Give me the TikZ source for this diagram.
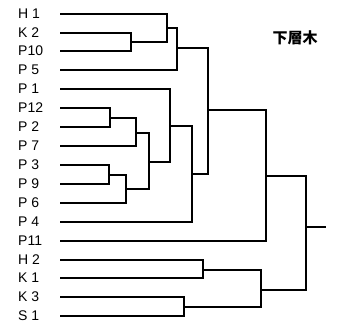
\documentclass[tikz,border=0pt]{standalone}
\usepackage{fontspec}
\setmainfont{Liberation Sans}
\newfontfamily\jpfont{Noto Sans CJK JP}
\usepackage{tikz}
\newcommand{\drawbranch}{\draw[line width=1.1pt]}
\newcommand{\leafname}[3]{\node[leaftext] (n#1) at (18,#3) {#2}; \coordinate (#1) at (60,#3);}
\newcommand{\joinpair}[4]{\coordinate (#1) at (#4); \drawbranch (#2) -| (#1) |- (#3);}
\tikzset{leaftext/.style={anchor=west, inner sep=0pt, font=\fontsize{14}{14}\selectfont}}

\begin{document}
\begin{tikzpicture}[x=1pt,y=-1pt]
\useasboundingbox (0,0) rectangle (352,329);
\leafname{h1}{H 1}{14}\leafname{k2}{K 2}{33}\leafname{p10}{P10}{51}\leafname{p5}{P 5}{70}
\leafname{p1}{P 1}{89}\leafname{p12}{P12}{108}\leafname{p2}{P 2}{127}\leafname{p7}{P 7}{146}
\leafname{p3}{P 3}{165}\leafname{p9}{P 9}{184}\leafname{p6}{P 6}{203}\leafname{p4}{P 4}{222}
\leafname{p11}{P11}{241}\leafname{h2}{H 2}{260}\leafname{k1}{K 1}{278}\leafname{k3}{K 3}{297}
\leafname{s1}{S 1}{316}
% upper group
\joinpair{m1}{k2}{p10}{131,42}\joinpair{m2}{h1}{m1}{167,28}\joinpair{m3}{m2}{p5}{177,48}
\joinpair{m4}{p12}{p2}{110,118}\joinpair{m5}{m4}{p7}{136,133}
\joinpair{m6}{p3}{p9}{109,175}\joinpair{m7}{m6}{p6}{126,189}
\joinpair{m8}{m5}{m7}{149,162}\joinpair{m9}{p1}{m8}{170,126}\joinpair{m10}{m9}{p4}{192,174}
\joinpair{m11}{m3}{m10}{208,110}\joinpair{m12}{m11}{p11}{266,176}
% lower group
\joinpair{m13}{h2}{k1}{203,270}\joinpair{m14}{k3}{s1}{184,307}\joinpair{m15}{m13}{m14}{261,290}
\joinpair{root}{m12}{m15}{306,227}
\coordinate (stub) at (326,227);
\drawbranch (root) -- (stub);
\node[font=\jpfont\bfseries\fontsize{15}{15}\selectfont, inner sep=0pt] (title) at (295,38) {下層木};
\end{tikzpicture}
\end{document}
